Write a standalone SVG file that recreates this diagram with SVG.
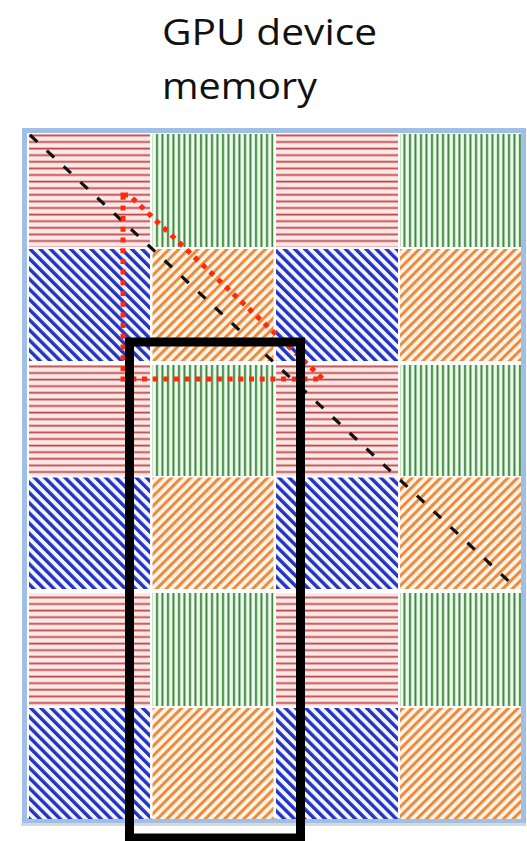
<svg xmlns="http://www.w3.org/2000/svg" width="527" height="841" viewBox="0 0 527 841">
  <style>
    .title { font-family: "Open Sans", "Liberation Sans", sans-serif; font-size: 37px; fill: #111; }
    .frame { fill: #ffffff; stroke: #9fbfe6; stroke-width: 5; }
    .hr { fill: url(#pRed); }
    .vg { fill: url(#pGreen); }
    .db { fill: url(#pBlue); }
    .uo { fill: url(#pOrange); }
    .diag { fill: none; stroke: #111; stroke-width: 3.2; stroke-dasharray: 10 13; }
    .tri { fill: none; stroke: #ff2a0a; stroke-width: 5; stroke-dasharray: 5 5.7; }
    .sel { fill: none; stroke: #000; stroke-width: 9; }
  </style>
  <defs>
    <pattern id="pRed" patternUnits="userSpaceOnUse" width="20" height="6.6">
      <rect width="20" height="6.6" fill="#fde8e8"/>
      <rect y="2.5" width="20" height="1.8" fill="#bf4a4a"/>
    </pattern>
    <pattern id="pGreen" patternUnits="userSpaceOnUse" width="5.5" height="20">
      <rect width="5.5" height="20" fill="#eefaee"/>
      <rect x="2" width="2" height="20" fill="#3a863a"/>
    </pattern>
    <pattern id="pBlue" patternUnits="userSpaceOnUse" width="20" height="7.2" patternTransform="rotate(45)">
      <rect width="20" height="7.2" fill="#f4f4ff"/>
      <rect y="2" width="20" height="3.4" fill="#2234c0"/>
    </pattern>
    <pattern id="pOrange" patternUnits="userSpaceOnUse" width="6.8" height="20" patternTransform="rotate(45)">
      <rect width="6.8" height="20" fill="#fff4ea"/>
      <rect x="2" width="3" height="20" fill="#ea8a3c"/>
    </pattern>
  </defs>

  <g id="title">
    <text class="title" x="162" y="45" textLength="215" lengthAdjust="spacingAndGlyphs">GPU device</text>
    <text class="title" x="162" y="99" textLength="155" lengthAdjust="spacingAndGlyphs">memory</text>
  </g>

  <g id="memory-frame">
    <rect x="21" y="823" width="505" height="3" fill="#d8d8d8"/>
    <rect class="frame" x="24.5" y="130.5" width="499" height="690"/>
  </g>

  <g id="tiles">
    <g id="row1">
      <rect class="hr" x="29" y="134" width="121" height="113"/>
      <rect class="vg" x="152.5" y="134" width="121" height="113"/>
      <rect class="hr" x="276" y="134" width="122" height="113"/>
      <rect class="vg" x="400" y="134" width="121" height="113"/>
    </g>
    <g id="row2">
      <rect class="db" x="29" y="249" width="121" height="112"/>
      <rect class="uo" x="152.5" y="249" width="121" height="112"/>
      <rect class="db" x="276" y="249" width="122" height="112"/>
      <rect class="uo" x="400" y="249" width="121" height="112"/>
    </g>
    <g id="row3">
      <rect class="hr" x="29" y="365" width="121" height="111"/>
      <rect class="vg" x="152.5" y="365" width="121" height="111"/>
      <rect class="hr" x="276" y="365" width="122" height="111"/>
      <rect class="vg" x="400" y="365" width="121" height="111"/>
    </g>
    <g id="row4">
      <rect class="db" x="29" y="477.5" width="121" height="111.5"/>
      <rect class="uo" x="152.5" y="477.5" width="121" height="111.5"/>
      <rect class="db" x="276" y="477.5" width="122" height="111.5"/>
      <rect class="uo" x="400" y="477.5" width="121" height="111.5"/>
    </g>
    <g id="row5">
      <rect class="hr" x="29" y="593" width="121" height="113"/>
      <rect class="vg" x="152.5" y="593" width="121" height="113"/>
      <rect class="hr" x="276" y="593" width="122" height="113"/>
      <rect class="vg" x="400" y="593" width="121" height="113"/>
    </g>
    <g id="row6">
      <rect class="db" x="29" y="708" width="121" height="111"/>
      <rect class="uo" x="152.5" y="708" width="121" height="111"/>
      <rect class="db" x="276" y="708" width="122" height="111"/>
      <rect class="uo" x="400" y="708" width="121" height="111"/>
    </g>
  </g>

  <g id="overlays">
    <line id="diagonal" class="diag" x1="30" y1="135" x2="516" y2="588"/>
    <polygon id="triangle" class="tri" points="123,195 129,195 323,379 123,379"/>
    <rect id="selection" class="sel" x="129.5" y="342" width="171" height="496"/>
  </g>
</svg>
